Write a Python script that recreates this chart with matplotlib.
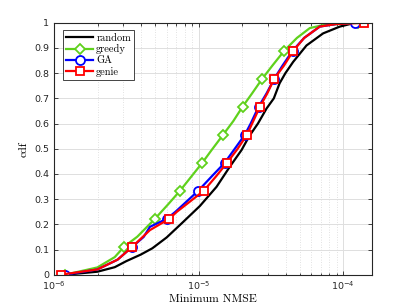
import numpy as np
import matplotlib
matplotlib.use("Agg")
import matplotlib.pyplot as plt
from matplotlib.ticker import LogLocator, NullFormatter

# cdf levels and log10(NMSE) offsets (exponent = -6 + offset)
random_cdf = [0, 0.012, 0.03, 0.054, 0.08, 0.105, 0.148, 0.21, 0.273, 0.349, 0.429, 0.495,
              0.55, 0.6, 0.66, 0.7, 0.76, 0.80, 0.845, 0.91, 0.958, 0.985, 0.998, 1.0]
random_off = [0.076, 0.30, 0.42, 0.50, 0.60, 0.68, 0.779, 0.894, 1.009, 1.124, 1.216, 1.297,
              1.35, 1.41, 1.47, 1.52, 1.56, 1.60, 1.654, 1.746, 1.861, 1.977, 2.068, 2.11]

greedy_cdf = [0, 0.029, 0.07, 0.111, 0.151, 0.222, 0.28, 0.333, 0.39, 0.444, 0.495, 0.556,
              0.61, 0.667, 0.72, 0.778, 0.83, 0.889, 0.94, 0.979, 0.991, 1.0]
greedy_off = [0.076, 0.30, 0.42, 0.484, 0.576, 0.698, 0.79, 0.871, 0.95, 1.025, 1.09, 1.170,
              1.24, 1.304, 1.37, 1.440, 1.51, 1.592, 1.68, 1.769, 1.861, 2.099]

ga_cdf = [0, 0.021, 0.06, 0.111, 0.150, 0.190, 0.222, 0.25, 0.333, 0.39, 0.444, 0.50, 0.556,
          0.60, 0.667, 0.72, 0.778, 0.83, 0.889, 0.94, 0.985, 0.995, 1.0]
ga_off = [0.076, 0.30, 0.44, 0.5415, 0.62, 0.663, 0.78, 0.84, 0.997, 1.09, 1.180, 1.25, 1.320,
          1.36, 1.415, 1.47, 1.523, 1.58, 1.650, 1.73, 1.838, 1.95, 2.078]

genie_cdf = [0, 0.021, 0.06, 0.111, 0.177, 0.222, 0.25, 0.333, 0.39, 0.444, 0.50, 0.556,
             0.60, 0.667, 0.72, 0.778, 0.83, 0.889, 0.94, 0.985, 0.995, 1.0]
genie_off = [0.046, 0.30, 0.44, 0.5415, 0.663, 0.797, 0.85, 1.035, 1.12, 1.196, 1.27, 1.335,
             1.37, 1.424, 1.475, 1.523, 1.59, 1.655, 1.73, 1.838, 1.95, 2.147]

labels = ["random", "greedy", "GA", "genie"]


def nmse(off):
    return 10.0 ** (-6 + np.array(off))


def marks(cdf):
    # markers sit on every ninth of the cdf
    c = np.array(cdf) * 9
    return list(np.where(np.abs(c - np.round(c)) < 0.02)[0])


serif = "cmr10"
plt.rcParams["axes.formatter.use_mathtext"] = True

fig = plt.figure(figsize=(4.11, 3.08), dpi=100)
ax = fig.add_axes([0.1314, 0.108, 0.7736, 0.818])

lw = 1.6
ax.plot(nmse(random_off), random_cdf, color="k", lw=lw, label=labels[0])
ax.plot(nmse(greedy_off), greedy_cdf, color="#5fd11c", lw=lw, marker="D", ms=5.5,
        mfc="w", mew=1.3, markevery=marks(greedy_cdf), label=labels[1])
ax.plot(nmse(ga_off), ga_cdf, color="#0000ff", lw=lw, marker="o", ms=6.5,
        mfc="w", mew=1.3, markevery=marks(ga_cdf), label=labels[2])
ax.plot(nmse(genie_off), genie_cdf, color="#ff0000", lw=lw, marker="s", ms=5.5,
        mfc="w", mew=1.3, markevery=marks(genie_cdf), label=labels[3])

ax.set_xscale("log")
ax.set_xlim(1e-6, 1.58e-4)
ax.set_ylim(0, 1)
ax.set_yticks(np.arange(0, 1.01, 0.1))
ax.set_yticklabels(["0", "0.1", "0.2", "0.3", "0.4", "0.5", "0.6", "0.7", "0.8", "0.9", "1"])
ax.xaxis.set_minor_locator(LogLocator(base=10, subs=np.arange(2, 10)))
ax.xaxis.set_minor_formatter(NullFormatter())

ax.grid(True, which="major", color="#dedede", lw=0.7, ls="-")
ax.grid(True, which="minor", axis="x", color="#d8d8d8", lw=0.6, ls=(0, (1, 2)))
ax.set_axisbelow(True)

for s in ax.spines.values():
    s.set_color("#262626")
    s.set_linewidth(0.8)
ax.tick_params(which="both", direction="in", top=True, right=True, colors="#262626",
               labelsize=6.8, width=0.6)
ax.tick_params(which="major", length=3)
ax.tick_params(which="minor", length=1.8)

ax.set_xlabel("Minimum NMSE", fontfamily=serif, fontsize=8.5, labelpad=2)
ax.set_ylabel("cdf", fontfamily=serif, fontsize=8.5, labelpad=4)

leg = ax.legend(loc="upper left", bbox_to_anchor=(0.028, 0.971), borderaxespad=0,
                prop={"family": serif, "size": 7.5}, fancybox=False, framealpha=1,
                edgecolor="#262626", handlelength=2.6, handletextpad=0.3,
                labelspacing=0.15, borderpad=0.3)
leg.get_frame().set_linewidth(0.6)

fig.savefig("out.png", dpi=100, facecolor="w")
